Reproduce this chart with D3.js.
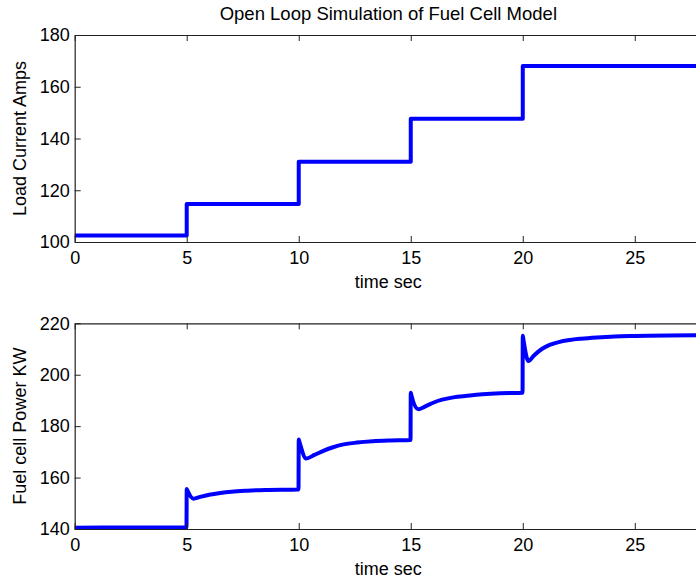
<!DOCTYPE html>
<html>
<head>
<meta charset="utf-8">
<script src="https://cdn.jsdelivr.net/npm/d3@7"></script>
<style>
  html, body { margin: 0; padding: 0; background: #fff; }
  svg { display: block; }
  text { font-family: "Liberation Sans", Arial, Helvetica, sans-serif; fill: #000; }
</style>
</head>
<body>
<script>
// Load current steps (A)
const currentTime = [0, 5, 10, 15, 20, 28];
const currentAmps = [102.5, 114.7, 131.0, 147.6, 168.0, 168.0];

// Fuel cell power response (kW)
const powerTime = [
  0, 2.5, 4.99,
  5.0, 5.04, 5.3, 5.6, 6.0, 6.5, 7.0, 7.7, 8.5, 9.99,
  10.0, 10.04, 10.33, 10.7, 11.1, 11.5, 12.0, 12.6, 13.3, 14.1, 14.99,
  15.0, 15.04, 15.33, 15.65, 16.0, 16.4, 16.9, 17.5, 18.2, 19.0, 19.99,
  20.0, 20.03, 20.25, 20.5, 20.85, 21.2, 21.6, 22.1, 22.6, 23.3, 24.1, 25.0, 25.6, 26.5, 28
];
const powerKW = [
  140.5, 140.6, 140.7,
  155.6, 154.8, 151.8, 152.5, 153.3, 154.0, 154.5, 154.9, 155.2, 155.4,
  174.8, 173.6, 167.4, 168.8, 170.4, 171.7, 172.9, 173.6, 174.1, 174.4, 174.6,
  193.0, 191.6, 186.6, 187.7, 189.1, 190.3, 191.2, 191.8, 192.4, 192.8, 193.0,
  215.2, 213.6, 205.3, 207.5, 210.0, 211.6, 212.7, 213.5, 214.0, 214.5, 214.9, 215.1, 215.2, 215.3, 215.4
];

const xTicks = [0, 5, 10, 15, 20, 25];
const topYTicks = [100, 120, 140, 160, 180];
const bottomYTicks = [140, 160, 180, 200, 220];

const W = 696, H = 580;
const svg = d3.select("body").append("svg").attr("width", W).attr("height", H);

const left = 74.7, right = 702;
const x = d3.scaleLinear().domain([0, 28]).range([left, right]);

function panel(top, bottom, yDomain, yTicks, ts, vs, curve, ylabel) {
  const y = d3.scaleLinear().domain(yDomain).range([bottom, top]);
  const g = svg.append("g");

  // data line
  g.append("path")
    .datum(ts.map((t, i) => [t, vs[i]]))
    .attr("fill", "none")
    .attr("stroke", "#0000ff")
    .attr("stroke-width", 4)
    .attr("stroke-linejoin", "round")
    .attr("d", d3.line().x(d => x(d[0])).y(d => y(d[1])).curve(curve));

  const styleAxis = sel => {
    sel.selectAll("path.domain").attr("stroke", "#222").attr("stroke-width", 1.2);
    sel.selectAll(".tick line").attr("stroke", "#222").attr("stroke-width", 1);
    sel.selectAll("text").attr("font-size", 18).attr("fill", "#000")
      .style("font-family", '"Liberation Sans", Arial, sans-serif');
  };

  g.append("g").attr("transform", `translate(0,${bottom})`)
    .call(d3.axisBottom(x).tickValues(xTicks).tickSizeInner(-6).tickSizeOuter(0).tickPadding(9))
    .call(styleAxis);
  g.append("g").attr("transform", `translate(0,${top})`)
    .call(d3.axisTop(x).tickValues(xTicks).tickSizeInner(-6).tickSizeOuter(0).tickFormat(""))
    .call(styleAxis);
  g.append("g").attr("transform", `translate(${left},0)`)
    .call(d3.axisLeft(y).tickValues(yTicks).tickSizeInner(-6).tickSizeOuter(0).tickPadding(5))
    .call(styleAxis);
  g.append("g").attr("transform", `translate(${right},0)`)
    .call(d3.axisRight(y).tickValues(yTicks).tickSizeInner(-6).tickSizeOuter(0).tickFormat(""))
    .call(styleAxis);

  g.append("text")
    .attr("x", (left + right) / 2).attr("y", bottom + 46)
    .attr("text-anchor", "middle").attr("font-size", 18)
    .text("time sec");

  g.append("text")
    .attr("transform", `translate(26,${(top + bottom) / 2}) rotate(-90)`)
    .attr("text-anchor", "middle").attr("font-size", 18)
    .text(ylabel);
}

panel(35, 242, [100, 180], topYTicks, currentTime, currentAmps, d3.curveStepAfter, "Load Current Amps");
panel(323.3, 529, [140, 220], bottomYTicks, powerTime, powerKW, d3.curveMonotoneX, "Fuel cell Power KW");

svg.append("text")
  .attr("x", (left + right) / 2).attr("y", 20)
  .attr("text-anchor", "middle").attr("font-size", 18.5)
  .text("Open Loop Simulation of Fuel Cell Model");
</script>
</body>
</html>
